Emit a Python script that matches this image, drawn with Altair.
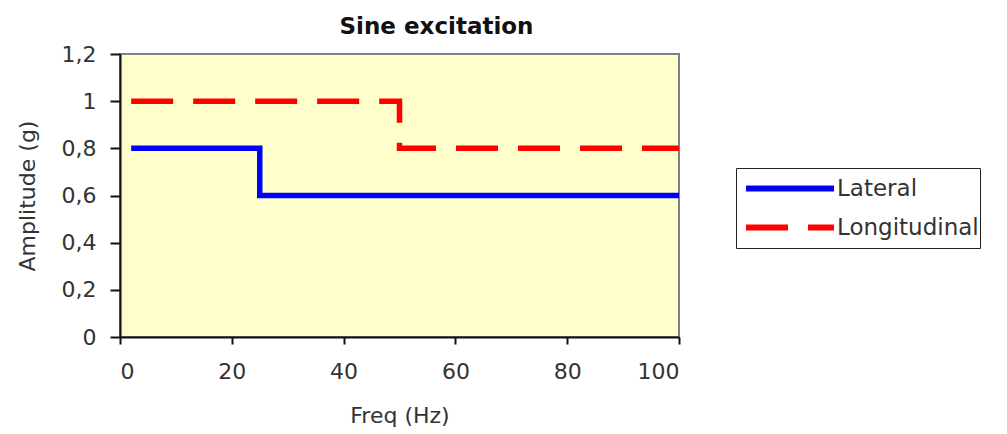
import altair as alt
import pandas as pd

# --- data ---
series_names = ["Lateral", "Longitudinal"]
lateral_freq = [2, 25, 100]
lateral_amp = [0.8, 0.6, 0.6]
longitudinal_freq = [2, 50, 100]
longitudinal_amp = [1.0, 0.8, 0.8]
x_ticks = [0, 20, 40, 60, 80, 100]
y_ticks = [0, 0.2, 0.4, 0.6, 0.8, 1.0, 1.2]

rows = []
for f, a in zip(lateral_freq, lateral_amp):
    rows.append({"freq": f, "amp": a, "series": series_names[0]})
for f, a in zip(longitudinal_freq, longitudinal_amp):
    rows.append({"freq": f, "amp": a, "series": series_names[1]})
df = pd.DataFrame(rows)

FONT = "DejaVu Sans"
TXT = "#333333"

legend = alt.Legend(title=None, orient="none", legendX=616, legendY=114,
                    symbolType="stroke", symbolSize=7744,
                    symbolStrokeWidth=6, clipHeight=39,
                    symbolOffset=6, labelOffset=0,
                    labelFontSize=23, labelColor=TXT, labelFont=FONT,
                    padding=1, rowPadding=0,
                    strokeColor="#222222", fillColor="white")

chart = alt.Chart(df).mark_line(interpolate="step-after", strokeWidth=5.5, clip=True).encode(
    x=alt.X("freq:Q",
            scale=alt.Scale(domain=[0, 100], nice=False),
            axis=alt.Axis(values=x_ticks, title="Freq (Hz)", grid=False,
                          tickSize=7, tickWidth=2, tickColor="#111111",
                          domainColor="#111111", domainWidth=2,
                          labelFontSize=22, labelColor=TXT, labelFont=FONT,
                          labelPadding=17,
                          titleFontSize=22, titleColor=TXT, titleFont=FONT,
                          titleFontWeight="normal",
                          titleY=78, titleBaseline="middle")),
    y=alt.Y("amp:Q",
            scale=alt.Scale(domain=[0, 1.2], nice=False),
            axis=alt.Axis(values=y_ticks, format=".1~f",
                          labelExpr="replace(datum.label, '.', ',')",
                          title="Amplitude (g)", grid=False,
                          tickSize=10, tickWidth=2, tickColor="#111111",
                          domainColor="#111111", domainWidth=2,
                          labelFontSize=22, labelColor=TXT, labelFont=FONT,
                          labelPadding=14,
                          titleFontSize=22, titleColor=TXT, titleFont=FONT,
                          titleFontWeight="normal",
                          titleX=-93, titleBaseline="middle")),
    color=alt.Color("series:N",
                    scale=alt.Scale(domain=series_names, range=["#0000FF", "#FF0000"]),
                    legend=legend),
    strokeDash=alt.StrokeDash("series:N",
                              scale=alt.Scale(domain=series_names, range=[[1, 0], [42, 20]]),
                              legend=legend),
).properties(
    width=559,
    height=283,
    autosize=alt.AutoSizeParams(type="none"),
    padding={"left": 120, "top": 54, "right": 328, "bottom": 97},
    title=alt.TitleParams("Sine excitation", font=FONT, fontSize=23, fontWeight="bold",
                          color="#111111", anchor="middle", dx=37, offset=4),
).configure_view(
    fill="#FFFFCC", stroke="#808080", strokeWidth=2
)

chart.save("out.html", embed_options={"renderer": "svg", "actions": False})
